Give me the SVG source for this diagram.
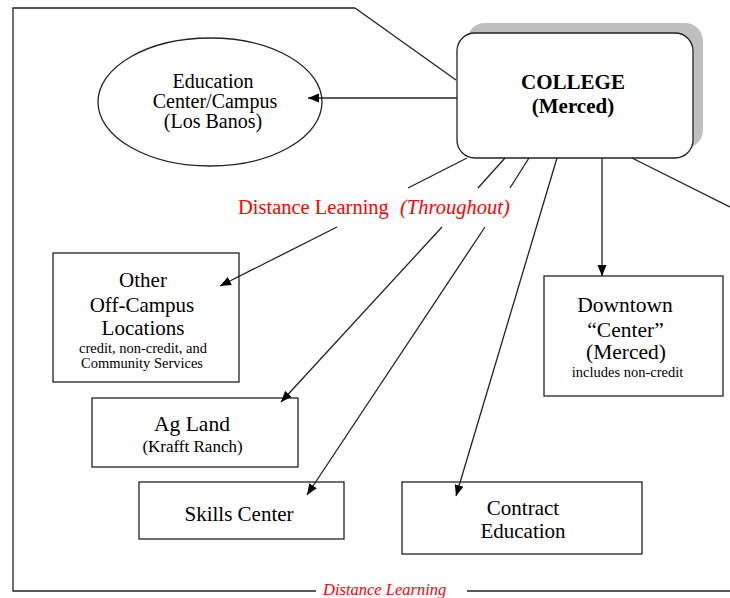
<svg xmlns="http://www.w3.org/2000/svg" width="730" height="598" viewBox="0 0 730 598" font-family="'Liberation Serif', 'Times New Roman', serif">
<style>
.ln{stroke:#222;stroke-width:1.3;fill:none}
.bx{fill:#fff;stroke:#222;stroke-width:1.3}
.t{font-family:'Liberation Serif','Times New Roman',serif;fill:#000;text-anchor:middle}
.big{font-size:21px}
.sm{font-size:14.5px}
.red{fill:#ff0000;font-family:'Liberation Serif','Times New Roman',serif}
</style>
<defs>
<marker id="ah" markerUnits="userSpaceOnUse" markerWidth="12" markerHeight="10" refX="11" refY="5" orient="auto">
<path d="M0,0.5 L11,5 L0,9.5 z" fill="#000"/>
</marker>
</defs>
<rect width="730" height="598" fill="#fff"/>

<g id="frame">
<path class="ln" d="M355,8 L13,8 L13,591 L316,591"/>
<path class="ln" d="M355,8 L456,80"/>
<path class="ln" d="M467,591 L735,591"/>
<text class="red" x="323" y="594.5" font-size="16.5" font-style="italic">Distance Learning</text>
</g>

<g id="college">
<rect x="467" y="23" width="236" height="125" rx="18" fill="#bfbfbf"/>
<rect class="bx" x="457" y="33" width="236" height="125" rx="18"/>
<text class="t" x="573" y="89" font-size="21" font-weight="bold">COLLEGE</text>
<text class="t" x="573" y="113" font-size="21" font-weight="bold">(Merced)</text>
</g>

<g id="losbanos">
<ellipse class="bx" cx="210" cy="102" rx="112" ry="64"/>
<text class="t" x="213" y="88" font-size="20">Education</text>
<text class="t" x="215" y="108" font-size="20">Center/Campus</text>
<text class="t" x="213" y="128" font-size="20">(Los Banos)</text>
</g>

<g id="offcampus">
<rect class="bx" x="53" y="253" width="186" height="129"/>
<text class="t big" x="143" y="287">Other</text>
<text class="t big" x="142" y="312">Off-Campus</text>
<text class="t big" x="143" y="335">Locations</text>
<text class="t sm" x="143" y="353">credit, non-credit, and</text>
<text class="t sm" x="142" y="368">Community Services</text>
</g>

<g id="agland">
<rect class="bx" x="92" y="398" width="206" height="69"/>
<text class="t" x="192" y="431" font-size="21.5">Ag Land</text>
<text class="t" x="192.5" y="452" font-size="17">(Krafft Ranch)</text>
</g>

<g id="skills">
<rect class="bx" x="139" y="482" width="205" height="57"/>
<text class="t big" x="239" y="521">Skills Center</text>
</g>

<g id="contract">
<rect class="bx" x="402" y="482" width="240" height="72"/>
<text class="t big" x="523" y="515">Contract</text>
<text class="t big" x="523" y="538">Education</text>
</g>

<g id="downtown">
<rect class="bx" x="544" y="276" width="179" height="120"/>
<text class="t" x="625" y="312" font-size="21.5">Downtown</text>
<text class="t" x="625.5" y="337" font-size="21.5">“Center”</text>
<text class="t" x="626" y="359" font-size="21.5">(Merced)</text>
<text class="t sm" x="627.5" y="377">includes non-credit</text>
</g>

<g id="connectors">
<line class="ln" x1="457" y1="98" x2="308" y2="98" marker-end="url(#ah)"/>
<line class="ln" x1="467" y1="158" x2="408" y2="188"/>
<line class="ln" x1="337" y1="227" x2="220" y2="286" marker-end="url(#ah)"/>
<line class="ln" x1="505" y1="158" x2="478" y2="188"/>
<line class="ln" x1="442" y1="227" x2="281" y2="402" marker-end="url(#ah)"/>
<line class="ln" x1="529" y1="158" x2="510" y2="188"/>
<line class="ln" x1="485" y1="227" x2="307" y2="495" marker-end="url(#ah)"/>
<line class="ln" x1="557" y1="158" x2="456" y2="496" marker-end="url(#ah)"/>
<line class="ln" x1="602" y1="158" x2="602" y2="276" marker-end="url(#ah)"/>
<line class="ln" x1="632" y1="158" x2="742" y2="213"/>
<text class="red" x="238" y="214" font-size="20.5">Distance Learning</text>
<text class="red" x="400" y="214" font-size="20.5" font-style="italic">(Throughout)</text>
</g>
</svg>
